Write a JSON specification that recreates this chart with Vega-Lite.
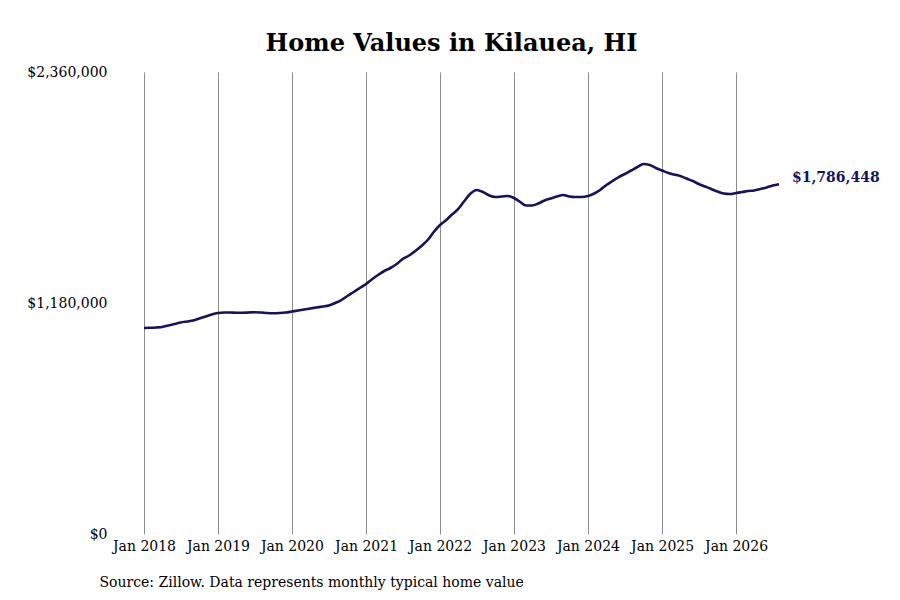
{
  "$schema": "https://vega.github.io/schema/vega-lite/v6.json",
  "width": 635,
  "height": 462,
  "autosize": "none",
  "padding": {"left": 144, "top": 72, "right": 121, "bottom": 66},
  "background": "white",
  "config": {
    "view": {"stroke": null},
    "font": "DejaVu Serif"
  },
  "title": {
    "text": "Home Values in Kilauea, HI",
    "font": "DejaVu Serif",
    "fontSize": 24,
    "fontWeight": "bold",
    "color": "black",
    "anchor": "middle",
    "baseline": "bottom",
    "offset": 15,
    "dx": -10,
    "dy": 30
  },
  "data": {
    "values": [
      {"date": "2018-01-01T00:00", "value": 1052300},
      {"date": "2018-02-01T00:00", "value": 1053300},
      {"date": "2018-03-01T00:00", "value": 1054800},
      {"date": "2018-04-01T00:00", "value": 1057400},
      {"date": "2018-05-01T00:00", "value": 1065100},
      {"date": "2018-06-01T00:00", "value": 1072700},
      {"date": "2018-07-01T00:00", "value": 1080400},
      {"date": "2018-08-01T00:00", "value": 1085500},
      {"date": "2018-09-01T00:00", "value": 1090600},
      {"date": "2018-10-01T00:00", "value": 1100800},
      {"date": "2018-11-01T00:00", "value": 1111000},
      {"date": "2018-12-01T00:00", "value": 1121300},
      {"date": "2019-01-01T00:00", "value": 1128900},
      {"date": "2019-02-01T00:00", "value": 1131500},
      {"date": "2019-03-01T00:00", "value": 1131500},
      {"date": "2019-04-01T00:00", "value": 1130400},
      {"date": "2019-05-01T00:00", "value": 1130400},
      {"date": "2019-06-01T00:00", "value": 1131500},
      {"date": "2019-07-01T00:00", "value": 1132500},
      {"date": "2019-08-01T00:00", "value": 1131500},
      {"date": "2019-09-01T00:00", "value": 1128900},
      {"date": "2019-10-01T00:00", "value": 1127900},
      {"date": "2019-11-01T00:00", "value": 1128900},
      {"date": "2019-12-01T00:00", "value": 1131500},
      {"date": "2020-01-01T00:00", "value": 1136600},
      {"date": "2020-02-01T00:00", "value": 1141700},
      {"date": "2020-03-01T00:00", "value": 1146800},
      {"date": "2020-04-01T00:00", "value": 1151900},
      {"date": "2020-05-01T00:00", "value": 1157000},
      {"date": "2020-06-01T00:00", "value": 1162100},
      {"date": "2020-07-01T00:00", "value": 1167200},
      {"date": "2020-08-01T00:00", "value": 1180000},
      {"date": "2020-09-01T00:00", "value": 1195300},
      {"date": "2020-10-01T00:00", "value": 1215800},
      {"date": "2020-11-01T00:00", "value": 1236200},
      {"date": "2020-12-01T00:00", "value": 1256600},
      {"date": "2021-01-01T00:00", "value": 1277100},
      {"date": "2021-02-01T00:00", "value": 1302600},
      {"date": "2021-03-01T00:00", "value": 1323000},
      {"date": "2021-04-01T00:00", "value": 1343500},
      {"date": "2021-05-01T00:00", "value": 1358800},
      {"date": "2021-06-01T00:00", "value": 1379200},
      {"date": "2021-07-01T00:00", "value": 1404800},
      {"date": "2021-08-01T00:00", "value": 1422600},
      {"date": "2021-09-01T00:00", "value": 1445600},
      {"date": "2021-10-01T00:00", "value": 1471200},
      {"date": "2021-11-01T00:00", "value": 1501800},
      {"date": "2021-12-01T00:00", "value": 1542700},
      {"date": "2022-01-01T00:00", "value": 1578400},
      {"date": "2022-02-01T00:00", "value": 1604000},
      {"date": "2022-03-01T00:00", "value": 1632100},
      {"date": "2022-04-01T00:00", "value": 1660200},
      {"date": "2022-05-01T00:00", "value": 1701000},
      {"date": "2022-06-01T00:00", "value": 1739300},
      {"date": "2022-07-01T00:00", "value": 1757200},
      {"date": "2022-08-01T00:00", "value": 1747000},
      {"date": "2022-09-01T00:00", "value": 1729100},
      {"date": "2022-10-01T00:00", "value": 1721500},
      {"date": "2022-11-01T00:00", "value": 1724000},
      {"date": "2022-12-01T00:00", "value": 1726600},
      {"date": "2023-01-01T00:00", "value": 1716400},
      {"date": "2023-02-01T00:00", "value": 1695900},
      {"date": "2023-03-01T00:00", "value": 1678000},
      {"date": "2023-04-01T00:00", "value": 1678000},
      {"date": "2023-05-01T00:00", "value": 1688300},
      {"date": "2023-06-01T00:00", "value": 1703600},
      {"date": "2023-07-01T00:00", "value": 1713800},
      {"date": "2023-08-01T00:00", "value": 1724000},
      {"date": "2023-09-01T00:00", "value": 1731700},
      {"date": "2023-10-01T00:00", "value": 1724000},
      {"date": "2023-11-01T00:00", "value": 1721500},
      {"date": "2023-12-01T00:00", "value": 1721500},
      {"date": "2024-01-01T00:00", "value": 1726600},
      {"date": "2024-02-01T00:00", "value": 1739300},
      {"date": "2024-03-01T00:00", "value": 1757200},
      {"date": "2024-04-01T00:00", "value": 1782800},
      {"date": "2024-05-01T00:00", "value": 1803200},
      {"date": "2024-06-01T00:00", "value": 1823600},
      {"date": "2024-07-01T00:00", "value": 1839000},
      {"date": "2024-08-01T00:00", "value": 1856800},
      {"date": "2024-09-01T00:00", "value": 1874700},
      {"date": "2024-10-01T00:00", "value": 1890000},
      {"date": "2024-11-01T00:00", "value": 1884900},
      {"date": "2024-12-01T00:00", "value": 1869600},
      {"date": "2025-01-01T00:00", "value": 1856800},
      {"date": "2025-02-01T00:00", "value": 1844100},
      {"date": "2025-03-01T00:00", "value": 1836400},
      {"date": "2025-04-01T00:00", "value": 1828700},
      {"date": "2025-05-01T00:00", "value": 1816000},
      {"date": "2025-06-01T00:00", "value": 1803200},
      {"date": "2025-07-01T00:00", "value": 1787900},
      {"date": "2025-08-01T00:00", "value": 1775100},
      {"date": "2025-09-01T00:00", "value": 1762300},
      {"date": "2025-10-01T00:00", "value": 1749600},
      {"date": "2025-11-01T00:00", "value": 1739300},
      {"date": "2025-12-01T00:00", "value": 1736800},
      {"date": "2026-01-01T00:00", "value": 1741900},
      {"date": "2026-02-01T00:00", "value": 1747000},
      {"date": "2026-03-01T00:00", "value": 1752100},
      {"date": "2026-04-01T00:00", "value": 1754700},
      {"date": "2026-05-01T00:00", "value": 1762300},
      {"date": "2026-06-01T00:00", "value": 1770000},
      {"date": "2026-07-01T00:00", "value": 1780200},
      {"date": "2026-08-01T00:00", "value": 1786448}
    ]
  },
  "encoding": {
    "x": {
      "field": "date",
      "type": "temporal",
      "scale": {"nice": false},
      "axis": {
        "title": "Source: Zillow. Data represents monthly typical home value",
        "titleFont": "DejaVu Serif",
        "titleFontSize": 14,
        "titleFontWeight": "normal",
        "titleColor": "black",
        "titleAnchor": "start",
        "titleAlign": "left",
        "titleBaseline": "alphabetic",
        "titleX": -45,
        "titleY": 52,
        "format": "%b %Y",
        "tickCount": {"interval": "year", "step": 1},
        "labelFont": "DejaVu Serif",
        "labelFontSize": 14,
        "labelColor": "black",
        "labelPadding": 5,
        "labelFlush": false,
        "labelOverlap": false,
        "ticks": false,
        "domain": false,
        "grid": true,
        "gridColor": "#8c8c8c",
        "gridWidth": 1
      }
    },
    "y": {
      "field": "value",
      "type": "quantitative",
      "scale": {"domain": [0, 2360000], "nice": false},
      "axis": {
        "title": null,
        "values": [0, 1180000, 2360000],
        "format": "$,.0f",
        "labelFont": "DejaVu Serif",
        "labelFontSize": 14,
        "labelColor": "black",
        "labelPadding": 37,
        "labelFlush": false,
        "ticks": false,
        "domain": false,
        "grid": false
      }
    }
  },
  "layer": [
    {
      "mark": {
        "type": "line",
        "color": "#17125e",
        "strokeWidth": 2.6,
        "interpolate": "monotone"
      }
    },
    {
      "transform": [{"filter": "datum.value == 1786448"}],
      "mark": {
        "type": "text",
        "align": "left",
        "baseline": "middle",
        "dx": 13,
        "dy": -6,
        "font": "DejaVu Serif",
        "fontSize": 14,
        "fontWeight": "bold",
        "color": "#17125e"
      },
      "encoding": {
        "text": {"field": "value", "type": "quantitative", "format": "$,.0f"}
      }
    }
  ]
}
